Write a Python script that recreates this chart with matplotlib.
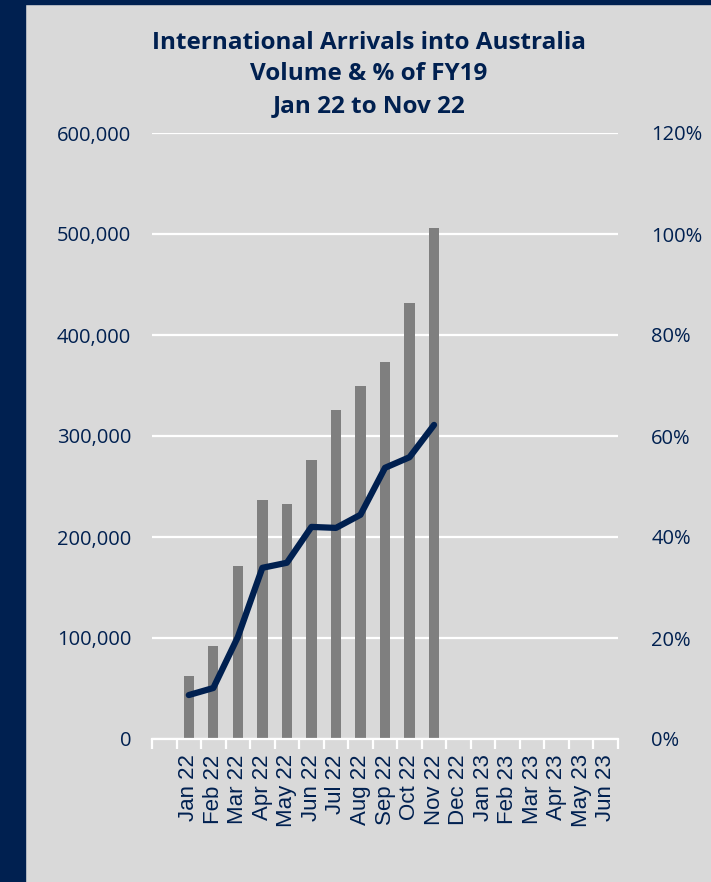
import matplotlib
matplotlib.use("Agg")
import matplotlib.pyplot as plt
from matplotlib.patches import Rectangle
from matplotlib.ticker import FuncFormatter, MultipleLocator
import numpy as np

NAVY = "#002050"
BG = "#d9d9d9"
BAR = "#7f7f7f"

# ── Data ──────────────────────────────────────────────────────────────────────
months = ["", "Jan 22", "Feb 22", "Mar 22", "Apr 22", "May 22", "Jun 22", "Jul 22",
          "Aug 22", "Sep 22", "Oct 22", "Nov 22", "Dec 22", "Jan 23", "Feb 23",
          "Mar 23", "Apr 23", "May 23", "Jun 23"]
arrivals = [np.nan, 62000, 92000, 171000, 237000, 233000, 276000, 326000,
            350000, 373000, 432000, 506000] + [np.nan] * 7
pct_fy19 = [np.nan, 8.7, 10.1, 20.2, 33.9, 34.9, 42.0, 41.8,
            44.4, 53.7, 55.8, 62.2] + [np.nan] * 7

# ── Figure ────────────────────────────────────────────────────────────────────
fig = plt.figure(figsize=(7.11, 8.82), dpi=100, facecolor=BG)
fig.add_artist(Rectangle((0, 0), 25 / 711, 1, transform=fig.transFigure,
                         color=NAVY, zorder=0))
fig.add_artist(Rectangle((0, 1 - 4 / 882), 1, 4 / 882, transform=fig.transFigure,
                         color=NAVY, zorder=0))

ax = fig.add_axes([152 / 711, 1 - 739 / 882, 466 / 711, 606 / 882])
ax.set_facecolor(BG)
x = np.arange(len(months))

ax.bar(x, arrivals, width=0.42, color=BAR, zorder=3)
ax.set_xlim(-0.5, len(months) - 0.5)
ax.set_ylim(0, 600000)
ax.yaxis.set_major_locator(MultipleLocator(100000))
ax.yaxis.set_major_formatter(FuncFormatter(lambda v, p: f"{int(v):,}"))
ax.grid(axis="y", color="white", linewidth=1.6, zorder=1)
ax.set_axisbelow(True)

for s in ["left", "right", "top"]:
    ax.spines[s].set_visible(False)
ax.spines["bottom"].set_color("white")
ax.spines["bottom"].set_linewidth(1.6)
ax.spines["bottom"].set_zorder(4)

ax.set_xticks(x)
ax.set_xticklabels(months, rotation=90, fontsize=16, color=NAVY,
                   family="Liberation Sans")
ax.set_xticks(np.arange(-0.5, len(months)), minor=True)
ax.tick_params(axis="x", which="major", length=0, pad=11)
ax.tick_params(axis="x", which="minor", length=7, width=1.6, color="white")
ax.tick_params(axis="y", length=0, pad=15, labelsize=14.5, labelcolor=NAVY)
for lab in ax.get_yticklabels():
    lab.set_family("Open Sans")

# line on secondary axis
ax2 = ax.twinx()
ax2.plot(x, pct_fy19, color=NAVY, linewidth=4.5, solid_capstyle="round",
         solid_joinstyle="round", zorder=5)
ax2.set_ylim(0, 120)
ax2.yaxis.set_major_locator(MultipleLocator(20))
ax2.yaxis.set_major_formatter(FuncFormatter(lambda v, p: f"{int(v)}%"))
ax2.tick_params(axis="y", length=0, pad=24, labelsize=14.5, labelcolor=NAVY)
for lab in ax2.get_yticklabels():
    lab.set_family("Open Sans")
for s in ax2.spines.values():
    s.set_visible(False)

# ── Title ─────────────────────────────────────────────────────────────────────
title_lines = ["International Arrivals into Australia", "Volume & % of FY19",
               "Jan 22 to Nov 22"]
for i, t in enumerate(title_lines):
    fig.text(369 / 711, 1 - (43 + 31.5 * i) / 882, t, ha="center", va="center",
             fontsize=17.5, fontweight="bold", color=NAVY, family="Open Sans")

fig.savefig("out.png", dpi=100, facecolor=BG)
